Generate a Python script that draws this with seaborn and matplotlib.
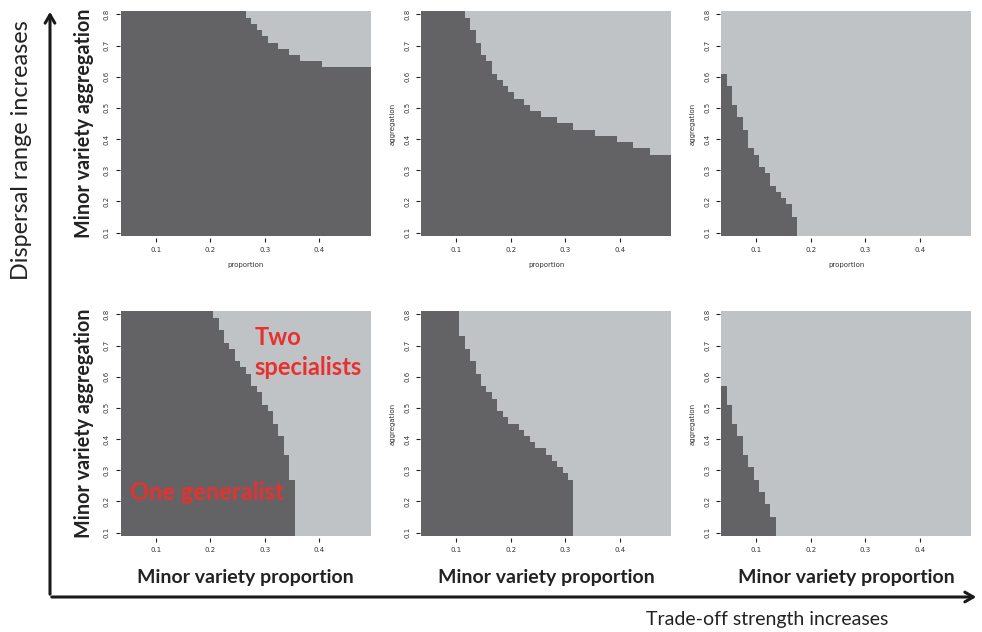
import numpy as np
import pandas as pd
import matplotlib
matplotlib.use("Agg")
import matplotlib.pyplot as plt
from matplotlib.colors import ListedColormap
import seaborn as sns

# grid of the simulation
proportion = np.round(np.arange(0.04, 0.495, 0.01), 2)   # 46 columns
aggregation = np.round(np.arange(0.10, 0.805, 0.02), 2)  # 36 rows

# highest aggregation that still gives one generalist, per proportion column
# (0 = no generalist cell in that column)
tl_top = [0.80] * 23 + [0.78, 0.76, 0.74, 0.72, 0.70, 0.70, 0.68, 0.68, 0.66, 0.66] \
    + [0.64] * 4 + [0.62] * 9
tm_top = [0.80] * 8 + [0.78, 0.74, 0.70, 0.66, 0.64, 0.60, 0.58, 0.56, 0.54, 0.52, 0.52,
                       0.50, 0.48, 0.48] + [0.46] * 3 + [0.44] * 3 + [0.42] * 4 \
    + [0.40] * 4 + [0.38] * 3 + [0.36] * 3 + [0.34] * 4
tr_top = [0.60, 0.56, 0.50, 0.46, 0.42, 0.36, 0.34, 0.30, 0.28, 0.24, 0.22, 0.20, 0.18,
          0.14] + [0.0] * 32
bl_top = [0.80] * 17 + [0.78, 0.74, 0.70, 0.68, 0.64, 0.62, 0.60, 0.56, 0.54, 0.50, 0.48,
                        0.44, 0.40, 0.34, 0.26] + [0.0] * 14
bm_top = [0.80] * 7 + [0.72, 0.68, 0.64, 0.60, 0.56, 0.54, 0.52, 0.48, 0.46, 0.44, 0.44,
                       0.42, 0.40, 0.38, 0.36, 0.36, 0.34, 0.32, 0.30, 0.28, 0.26] + [0.0] * 18
br_top = [0.56, 0.50, 0.44, 0.40, 0.34, 0.30, 0.26, 0.22, 0.18, 0.14] + [0.0] * 36

panels = [tl_top, tm_top, tr_top, bl_top, bm_top, br_top]

DARK = "#636366"
LIGHT = "#c0c3c6"
RED = "#e8302f"

sns.set_style("white")
plt.rcParams["font.family"] = ["Lato", "DejaVu Sans"]

W, H = 982, 632
fig = plt.figure(figsize=(W / 100, H / 100), dpi=100)

lefts = [119.5, 420, 720]
tops = [9.5, 309.5]
aw, ah = 252.5, 228


def make_grid(top):
    top = np.array(top)
    m = (aggregation[:, None] <= top[None, :] + 1e-9).astype(int)
    return pd.DataFrame(m[::-1], index=aggregation[::-1], columns=proportion)


def col_pos(v):
    return (v - proportion[0]) / 0.01 + 0.5


def row_pos(v):
    return (aggregation[-1] - v) / 0.02 + 0.5


for k, top in enumerate(panels):
    r, c = divmod(k, 3)
    ax = fig.add_axes([lefts[c] / W, 1 - (tops[r] + ah) / H, aw / W, ah / H])
    sns.heatmap(make_grid(top), ax=ax, cmap=ListedColormap([LIGHT, DARK]),
                vmin=0, vmax=1, cbar=False)
    xt = [0.1, 0.2, 0.3, 0.4]
    yt = [0.1, 0.2, 0.3, 0.4, 0.5, 0.6, 0.7, 0.8]
    ax.set_xticks([col_pos(v) for v in xt])
    ax.set_xticklabels([f"{v:.1f}" for v in xt], rotation=0, fontsize=5, color="#333333",
                       family="DejaVu Sans")
    ax.set_yticks([row_pos(v) for v in yt])
    ax.set_yticklabels([f"{v:.1f}" for v in yt], rotation=90, fontsize=5, color="#333333",
                       family="DejaVu Sans", va="center")
    ax.tick_params(axis="both", length=3, width=0.8, color="#222222", pad=4,
                   bottom=True, left=True)
    ax.set_xlim(-0.2, len(proportion) + 0.2)
    ax.set_ylim(len(aggregation) + 0.3, -0.3)
    ax.set_facecolor("white")
    for s in ax.spines.values():
        s.set_visible(False)

    if r == 0:
        ax.set_xlabel("proportion", fontsize=5, color="#333333", family="DejaVu Sans",
                      labelpad=6)
    else:
        ax.set_xlabel("Minor variety proportion", fontsize=14, fontweight="bold",
                      color="#222222", labelpad=11)
    if c == 0:
        ax.set_ylabel("Minor variety aggregation", fontsize=14.2, fontweight="bold",
                      color="#222222", labelpad=7)
    else:
        ax.set_ylabel("aggregation", fontsize=5, color="#333333", family="DejaVu Sans",
                      labelpad=6)

    if k == 3:
        ax.text(col_pos(0.194), row_pos(0.228), "One generalist", color=RED, fontsize=17,
                fontweight="bold", ha="center", va="center")
        ax.text(col_pos(0.2816), row_pos(0.678), "Two\nspecialists", color=RED,
                fontsize=17, fontweight="bold", ha="left", va="center", ma="left",
                linespacing=1.35)

# outer arrows
x0, y0 = 50 / W, 1 - 597 / H
fig.add_artist(matplotlib.patches.FancyArrowPatch(
    (x0, y0), (x0, 1 - 9 / H), transform=fig.transFigure,
    arrowstyle="->,head_length=6,head_width=3.5", lw=2.2, color="#1a1a1a",
    mutation_scale=1))
fig.add_artist(matplotlib.patches.FancyArrowPatch(
    (x0 - 1 / W, y0), (979 / W, y0), transform=fig.transFigure,
    arrowstyle="->,head_length=6,head_width=3.5", lw=2.2, color="#1a1a1a",
    mutation_scale=1))

fig.text(22 / W, 1 - 150 / H, "Dispersal range increases", rotation=90, fontsize=16.8,
         color="#222222", ha="center", va="center")
fig.text(767 / W, 1 - 620 / H, "Trade-off strength increases", fontsize=14,
         color="#222222", ha="center", va="center")

fig.savefig("out.png", dpi=100)
